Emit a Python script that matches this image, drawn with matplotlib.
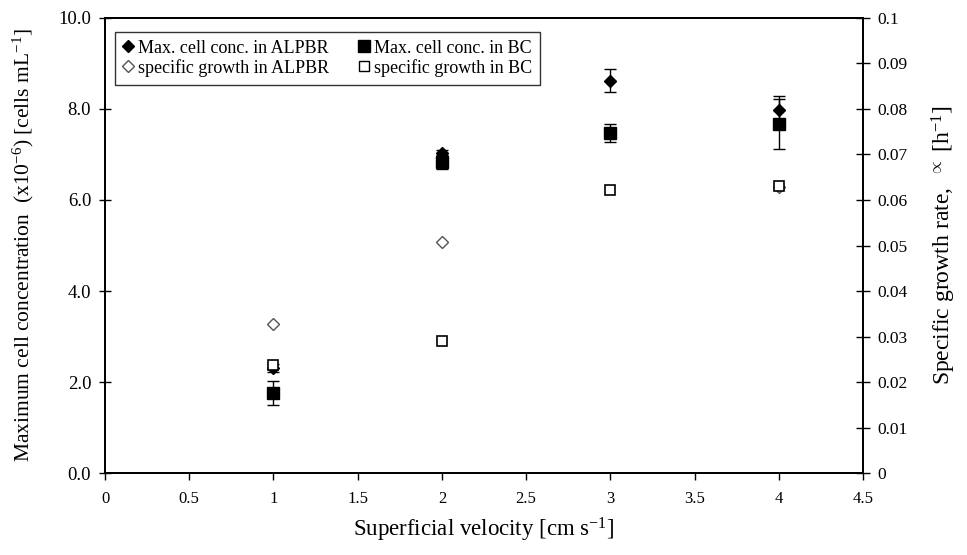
import numpy as np
import matplotlib.pyplot as plt
from matplotlib.lines import Line2D

plt.rcParams['font.family'] = ['Liberation Serif', 'DejaVu Serif']
plt.rcParams['mathtext.fontset'] = 'custom'
plt.rcParams['mathtext.rm'] = 'Liberation Serif'
plt.rcParams['mathtext.it'] = 'Liberation Serif:italic'

velocity = [1, 2, 3, 4]
conc_alpbr = [2.31, 7.03, 8.62, 7.98]
conc_alpbr_err = [0.08, 0.06, 0.25, 0.30]
conc_bc = [1.76, 6.84, 7.47, 7.68]
conc_bc_err = [0.27, 0.15, 0.20, 0.55]
mu_alpbr = [0.0327, 0.0508, np.nan, 0.0628]
mu_bc = [0.0238, 0.0291, 0.0621, 0.0630]

fig = plt.figure(figsize=(9.67, 5.55), dpi=100)
ax = fig.add_axes([0.1086, 0.1477, 0.7839, 0.8199])
ax2 = ax.twinx()

ax.errorbar(velocity, conc_bc, yerr=conc_bc_err, fmt='s', color='black', ms=8,
            capsize=4, elinewidth=1, capthick=1, zorder=3)
ax.errorbar(velocity, conc_alpbr, yerr=conc_alpbr_err, fmt='D', color='black', ms=6.5,
            capsize=4, elinewidth=1, capthick=1, zorder=4)
ax2.plot(velocity, mu_alpbr, 'D', mfc='white', mec='#555555', mew=1, ms=6.5, ls='none')
ax2.plot(velocity, mu_bc, 's', mfc='white', mec='black', mew=1.2, ms=7.5, ls='none')

ax.set_xlim(0, 4.5)
ax.set_ylim(0, 10)
ax2.set_ylim(0, 0.1)
ax.set_xticks(np.arange(0, 4.51, 0.5))
ax.set_xticklabels(['0', '0.5', '1', '1.5', '2', '2.5', '3', '3.5', '4', '4.5'])
ax.set_yticks(np.arange(0, 10.1, 2))
ax.set_yticklabels(['%.1f' % v for v in np.arange(0, 10.1, 2)])
ax2.set_yticks(np.arange(0, 0.101, 0.01))
ax2.set_yticklabels(['0', '0.01', '0.02', '0.03', '0.04', '0.05', '0.06', '0.07', '0.08', '0.09', '0.1'])

ax.tick_params(axis='x', direction='out', length=5, width=1, labelsize=12, pad=8)
ax.tick_params(axis='y', direction='inout', length=8, width=1, labelsize=13.5, pad=6)
ax2.tick_params(axis='y', direction='inout', length=10, width=1, labelsize=12.5, pad=5)

for a in (ax, ax2):
    for s in a.spines.values():
        s.set_linewidth(1.3)

ax.set_xlabel('Superficial velocity [cm s$^{-1}$]', fontsize=16.5, labelpad=6)
ax.set_ylabel('Maximum cell concentration  (x10$^{-6}$) [cells mL$^{-1}$]', fontsize=15.5, labelpad=16)
ax2.set_ylabel('Specific growth rate,  $^{\\propto}$ [h$^{-1}$]', fontsize=17, labelpad=16)

handles = [
    Line2D([], [], marker='D', color='black', ls='none', ms=6.5),
    Line2D([], [], marker='D', mfc='white', mec='#555555', ls='none', ms=6.5),
    Line2D([], [], marker='s', color='black', ls='none', ms=8),
    Line2D([], [], marker='s', mfc='white', mec='black', ls='none', ms=7),
]
labels = ['Max. cell conc. in ALPBR', 'specific growth in ALPBR',
          'Max. cell conc. in BC', 'specific growth in BC']
leg = ax2.legend(handles, labels, ncol=2, loc='upper left', bbox_to_anchor=(0.001, 0.99),
                 fontsize=13, frameon=True, fancybox=False, edgecolor='black',
                 handlelength=0.6, handletextpad=0.25, columnspacing=1.6,
                 borderpad=0.45, labelspacing=0.12)
leg.get_frame().set_linewidth(1)

fig.savefig('out.png', dpi=100)
